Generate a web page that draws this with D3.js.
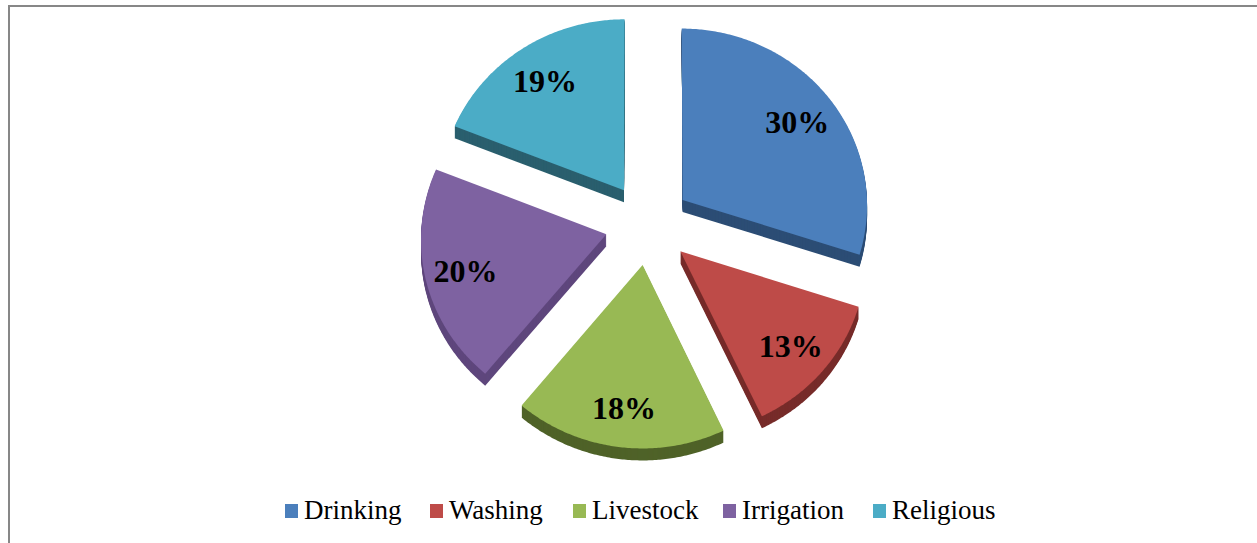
<!DOCTYPE html>
<html>
<head>
<meta charset="utf-8">
<script src="https://cdn.jsdelivr.net/npm/d3@7"></script>
<style>
  body { margin: 0; background: #fff; }
  text { font-family: "Times New Roman", "Liberation Serif", Tinos, Times, serif; }
</style>
</head>
<body>
<svg id="chart" width="1257" height="543"></svg>
<script>
// water use shares (%)
const categories = ["Drinking", "Washing", "Livestock", "Irrigation", "Religious"];
const shares = [30, 13, 18, 20, 19];
const topColors = ["#4b7fbc", "#be4b48", "#98b954", "#7e62a1", "#4bacc6"];
const sideColors = ["#2c4d75", "#772c2a", "#4f6228", "#5f477d", "#2a5f6e"];
const legendX = [285, 430, 573, 723, 873];

let pieAttr = {
  "cx": 648,
  "cy": 224,
  "rx": 185,
  "ry": 177,
  "depth": 12,
  "explode": 0.232,   // in units of the radius
  "persp": 0.025      // front of the pie drawn a little bigger
};

let svg = d3.select("#chart");

// frame round the chart area
svg.append("rect")
  .attr("x", 9)
  .attr("y", 6)
  .attr("width", 1280)
  .attr("height", 600)
  .style("fill", "none")
  .style("stroke", "#878787")
  .style("stroke-width", 2);

let pie = d3.pie()
  .sort(null)
  .value(d => d);

let arcs = pie(shares);

// pie plane (unit circle) -> screen
function project(u, v) {
  let k = 1 + pieAttr.persp * v;
  return [pieAttr.cx + pieAttr.rx * u * k, pieAttr.cy + pieAttr.ry * v * k];
}

// outline of an exploded slice, in pie plane coords
function slicePoints(d) {
  let mid = (d.startAngle + d.endAngle) / 2;
  let ox = pieAttr.explode * Math.sin(mid);
  let oy = -pieAttr.explode * Math.cos(mid);
  let pts = [project(ox, oy)];
  let steps = Math.ceil((d.endAngle - d.startAngle) / 0.01);
  for (let s = 0; s <= steps; s++) {
    let a = d.startAngle + (d.endAngle - d.startAngle) * s / steps;
    pts.push(project(ox + Math.sin(a), oy - Math.cos(a)));
  }
  return pts;
}

let lineGenerator = d3.line().curve(d3.curveLinearClosed);

// side walls: stacked copies of the slice, shifted down
arcs.forEach(function(d, i) {
  let pts = slicePoints(d);
  for (let t = pieAttr.depth; t >= 1; t--) {
    svg.append("path")
      .attr("transform", "translate(0," + t + ")")
      .attr("d", lineGenerator(pts))
      .style("fill", sideColors[i]);
  }
});

// top faces
arcs.forEach(function(d, i) {
  svg.append("path")
    .attr("d", lineGenerator(slicePoints(d)))
    .style("fill", topColors[i]);
});

// percent labels
arcs.forEach(function(d, i) {
  let mid = (d.startAngle + d.endAngle) / 2;
  let r = pieAttr.explode + 0.78;
  let p = project(r * Math.sin(mid), -r * Math.cos(mid));
  svg.append("text")
    .attr("x", p[0])
    .attr("y", p[1] + 2)
    .text(shares[i] + "%")
    .style("font-weight", "bold")
    .style("font-size", "32px")
    .style("text-anchor", "middle")
    .style("dominant-baseline", "central");
});

// legend
categories.forEach(function(c, i) {
  svg.append("rect")
    .attr("x", legendX[i])
    .attr("y", 504)
    .attr("width", 13)
    .attr("height", 14)
    .style("fill", topColors[i]);
  svg.append("text")
    .attr("x", legendX[i] + 19)
    .attr("y", 519)
    .text(c)
    .style("font-size", "27px");
});
</script>
</body>
</html>
